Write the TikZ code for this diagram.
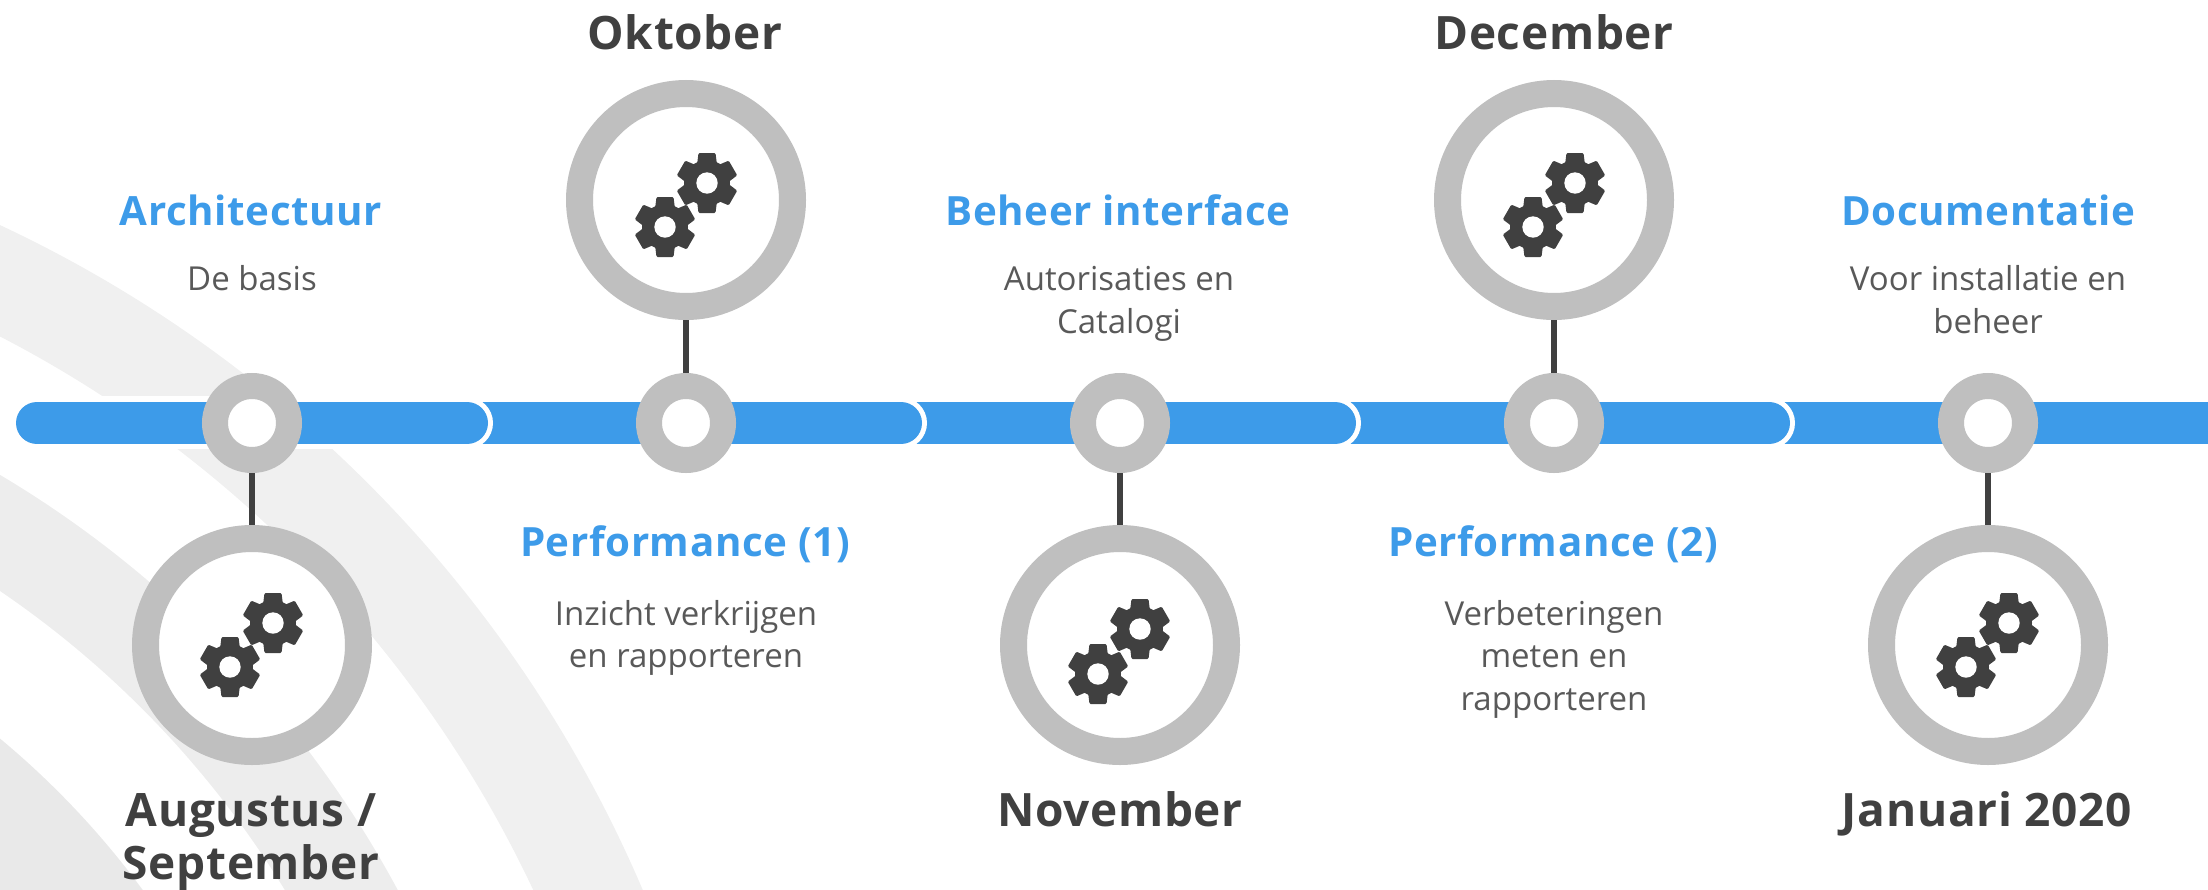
\documentclass[tikz,border=0pt]{standalone}
\usepackage{fontspec}
\setmainfont{Open Sans}
\newfontfamily\headfont[LetterSpace=1.5]{Open Sans}
\definecolor{barblue}{HTML}{3D9BE9}
\definecolor{ringgray}{HTML}{BFBFBF}
\definecolor{inkdark}{HTML}{404040}
\definecolor{bodygray}{HTML}{595959}
\definecolor{bandone}{HTML}{F0F0F0}
\definecolor{bandtwo}{HTML}{EDEDED}
\definecolor{bandthree}{HTML}{E9E9E9}
\tikzset{
  smallring/.style={circle,draw=ringgray,fill=white,line width=26,minimum size=74,inner sep=0},
  bigring/.style={circle,draw=ringgray,fill=white,line width=27,minimum size=213,inner sep=0},
  stem/.style={draw=inkdark,line width=5.5},
  month/.style={anchor=base,text=inkdark,font=\headfont\fontsize{46}{52}\selectfont\bfseries,inner sep=0,align=center},
  topic/.style={anchor=base,text=barblue,font=\headfont\fontsize{40.3}{46}\selectfont\bfseries,inner sep=0},
  body/.style={anchor=base,text=bodygray,font=\fontsize{33}{43}\selectfont,inner sep=0},
  gearpic/.pic={
    \fill[inkdark] (0,0) circle[radius=23];
    \foreach \a in {90,150,210,270,330,30}{
      \fill[inkdark,rotate=\a,rounded corners=1.2] (18,-10) -- (30,-8.5) -- (30,8.5) -- (18,10) -- cycle;
    }
    \fill[white] (0,0) circle[radius=10.7];
  }
}
\begin{document}
\begin{tikzpicture}[x=1pt,y=-1pt]
\useasboundingbox (0,0) rectangle (2208,889);
% background bands
\begin{scope}
\clip (0,0) rectangle (2208,889);
\draw[bandone,line width=100] (-547,1397) circle[radius=1243];
\draw[bandtwo,line width=98] (-547,1397) circle[radius=1023];
\draw[bandthree,line width=120] (-547,1397) circle[radius=796];
\fill[white] (0,396) rectangle (2208,449);
\end{scope}
% bar
\coordinate (b0) at (37,423);
\coordinate (e1) at (467,423);
\coordinate (e2) at (901,423);
\coordinate (e3) at (1335,423);
\coordinate (e4) at (1769,423);
\coordinate (e5) at (2208,423);
\draw[barblue,line width=42] (e4) -- (e5);
\draw[white,line width=52,line cap=round] (e3) -- (e4);
\draw[barblue,line width=42,line cap=round] (e3) -- (e4);
\draw[white,line width=52,line cap=round] (e2) -- (e3);
\draw[barblue,line width=42,line cap=round] (e2) -- (e3);
\draw[white,line width=52,line cap=round] (e1) -- (e2);
\draw[barblue,line width=42,line cap=round] (e1) -- (e2);
\draw[white,line width=52,line cap=round] (b0) -- (e1);
\draw[barblue,line width=42,line cap=round] (b0) -- (e1);
% rings
\node[smallring] (s1) at (252,423) {};
\node[smallring] (s2) at (686,423) {};
\node[smallring] (s3) at (1120,423) {};
\node[smallring] (s4) at (1554,423) {};
\node[smallring] (s5) at (1988,423) {};
\node[bigring] (c1) at (252,645) {};
\node[bigring] (c2) at (686,200) {};
\node[bigring] (c3) at (1120,645) {};
\node[bigring] (c4) at (1554,200) {};
\node[bigring] (c5) at (1988,645) {};
\draw[stem] (s1) -- (c1);
\draw[stem] (s2) -- (c2);
\draw[stem] (s3) -- (c3);
\draw[stem] (s4) -- (c4);
\draw[stem] (s5) -- (c5);
% gears
\pic at (273,623) {gearpic};
\pic at (230,667) {gearpic};
\pic at (707,183) {gearpic};
\pic at (665,227) {gearpic};
\pic at (1140,629) {gearpic};
\pic at (1098,674) {gearpic};
\pic at (1575,183) {gearpic};
\pic at (1533,227) {gearpic};
\pic at (2009,623) {gearpic};
\pic at (1966,667) {gearpic};
% months
\node[month] (m1a) at (251,826) {Augustus /};
\node[month] (m1b) at (251,879) {September};
\node[month] (m2) at (685,49) {Oktober};
\node[month] (m3) at (1120,826) {November};
\node[month] (m4) at (1554,49) {December};
\node[month] (m5) at (1987,826) {Januari 2020};
% topics
\node[topic] (t1) at (251,225) {Architectuur};
\node[topic] (t2) at (685,556) {Performance (1)};
\node[topic] (t3) at (1118,225) {Beheer interface};
\node[topic] (t4) at (1553,556) {Performance (2)};
\node[topic] (t5) at (1988,225) {Documentatie};
% bodies
\node[body] (d1) at (252,290) {De basis};
\node[body] (d2a) at (686,625) {Inzicht verkrijgen};
\node[body] (d2b) at (686,667) {en rapporteren};
\node[body] (d3a) at (1119,290) {Autorisaties en};
\node[body] (d3b) at (1119,333) {Catalogi};
\node[body] (d4a) at (1554,625) {Verbeteringen};
\node[body] (d4b) at (1554,667) {meten en};
\node[body] (d4c) at (1554,710) {rapporteren};
\node[body] (d5a) at (1988,290) {Voor installatie en};
\node[body] (d5b) at (1988,333) {beheer};
\end{tikzpicture}
\end{document}
